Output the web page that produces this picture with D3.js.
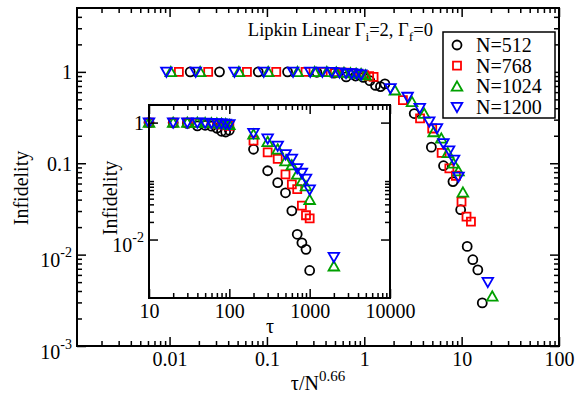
<!DOCTYPE html>
<html><head><meta charset="utf-8">
<script src="https://cdn.jsdelivr.net/npm/d3@7"></script>
<style>
body{margin:0;background:#fff}
svg{display:block}
text{font-family:"Liberation Serif","Times New Roman",serif;fill:#000}
</style>
</head><body>
<svg id="c" width="576" height="396"></svg>
<script>
// ---------------- data ----------------
const tau = [1,2,5,10,20,30,40,50,60,70,80,90,100,200,300,400,500,600,700,800,900,1000,2000];
const sizes = [512,768,1024,1200];
const inf512  = [1,1,1,1,0.99,0.97,0.88,0.9,0.87,0.8,0.71,0.69,0.74,0.35,0.15,0.094,0.063,0.031,0.0123,0.0088,0.0068,0.00296];
const inf768  = [1,1,1,1,1,1,0.99,0.98,0.97,0.95,0.92,0.9,0.88,0.49,0.31,0.24,0.13,0.088,0.073,0.038,0.026,0.023];
const inf1024 = [1,1,1,1,1,1,1,0.99,0.98,0.97,0.96,0.95,0.92,0.63,0.47,0.35,0.22,0.187,0.13,0.10,0.082,0.048,0.0035];
const inf1200 = [1,1,1,1,1,1,1,0.99,0.98,0.97,0.96,0.95,0.93,0.66,0.53,0.40,0.285,0.24,0.165,0.137,0.109,0.071,0.0050];
const scalingExponent = 0.66;
const seriesNames = ["N=512","N=768","N=1024","N=1200"];
const seriesColors = ["#000000","#ff0000","#00a000","#0000ff"];
const seriesShapes = ["circle","square","triUp","triDown"];

const mainXTicks = [0.01,0.1,1,10,100];
const mainXLabels = ["0.01","0.1","1","10","100"];
const mainYTicks = [0.001,0.01,0.1,1];
const mainYLabels = [["10","-3"],["10","-2"],["0.1",""],["1",""]];
const insetXTicks = [10,100,1000,10000];
const insetXLabels = ["10","100","1000","10000"];
const insetYTicks = [0.01,1];
const insetYLabels = [["10","-2"],["1",""]];

// ---------------- layout ----------------
const svg = d3.select("#c");
const M = {l:77, r:559, t:8, b:346};
const I = {l:149, r:390, t:105, b:298};

const x = d3.scaleLog().domain([0.00112,100]).range([M.l,M.r]);
const y = d3.scaleLog().domain([0.001,5]).range([M.b,M.t]);
const xi = d3.scaleLog().domain([10,10000]).range([I.l,I.r]);
const yi = d3.scaleLog().domain([0.001,2]).range([I.b,I.t]);

const allInf = [inf512,inf768,inf1024,inf1200];
const series = sizes.map((N,s)=>({
  N, name:seriesNames[s], color:seriesColors[s], shape:seriesShapes[s],
  pts: allInf[s].map((v,i)=>({tau:tau[i], v}))
}));

function minorLog(domain, decades){
  const out=[];
  decades.forEach(d=>{for(let k=2;k<=9;k++){const v=d*k; if(v>domain[0]*1.0001 && v<domain[1]*0.9999) out.push(v);}});
  return out;
}

function shapePath(shape){
  if(shape==="circle") return "M4.5,0A4.5,4.5 0 1,1 -4.5,0A4.5,4.5 0 1,1 4.5,0Z";
  if(shape==="square") return "M-4,-4H4V4H-4Z";
  if(shape==="triUp") return "M0,-5L5.3,4.3H-5.3Z";
  return "M0,5L5.3,-4.3H-5.3Z";
}

function superLabel(sel, parts, supSize, supDy){
  sel.text(null);
  sel.append("tspan").text(parts[0]);
  if(parts[1]) sel.append("tspan").attr("font-size",supSize).attr("dy",supDy).text(parts[1]);
}

function frameAxes(g, xs, ys, box, cfg){
  const gb = g.append("g").attr("transform",`translate(0,${box.b})`);
  gb.call(d3.axisBottom(xs).tickValues(cfg.xMinor).tickSize(-5).tickSizeOuter(0).tickFormat(""));
  gb.append("g").call(d3.axisBottom(xs).tickValues(cfg.xMajor).tickSize(-9).tickSizeOuter(0).tickPadding(6)
     .tickFormat((d,i)=>cfg.xLabels[i]));
  const gt = g.append("g").attr("transform",`translate(0,${box.t})`);
  gt.call(d3.axisTop(xs).tickValues(cfg.xMinor).tickSize(-5).tickSizeOuter(0).tickFormat(""));
  gt.append("g").call(d3.axisTop(xs).tickValues(cfg.xMajor).tickSize(-9).tickSizeOuter(0).tickFormat(""));
  const gl = g.append("g").attr("transform",`translate(${box.l},0)`);
  gl.call(d3.axisLeft(ys).tickValues(cfg.yMinor).tickSize(-5).tickSizeOuter(0).tickFormat(""));
  const glm = gl.append("g").call(d3.axisLeft(ys).tickValues(cfg.yMajor).tickSize(-9).tickSizeOuter(0).tickPadding(5).tickFormat(""));
  glm.selectAll(".tick text").each(function(d,i){
    const t=d3.select(this); const parts=cfg.yLabels[i];
    superLabel(t, parts, 14, -10);
    t.attr("dy", parts[1] ? "12" : "7");
  });
  const gr = g.append("g").attr("transform",`translate(${box.r},0)`);
  gr.call(d3.axisRight(ys).tickValues(cfg.yMinor).tickSize(-5).tickSizeOuter(0).tickFormat(""));
  gr.append("g").call(d3.axisRight(ys).tickValues(cfg.yMajor).tickSize(-9).tickSizeOuter(0).tickFormat(""));
  g.selectAll(".domain").remove();
  g.selectAll(".tick line").attr("stroke","#000").attr("stroke-width",1.5);
  g.selectAll(".tick text").attr("font-size",20).attr("fill","#000").attr("font-family",'"Liberation Serif",serif');
  g.append("rect").attr("x",box.l).attr("y",box.t).attr("width",box.r-box.l).attr("height",box.b-box.t)
    .attr("fill","none").attr("stroke","#000").attr("stroke-width",2);
}

function drawSeries(g, xs, ys, xOf){
  series.forEach(s=>{
    const pts = s.pts.map(p=>({x:xOf(p,s), v:p.v}))
      .filter(p=>p.x>=xs.domain()[0]*0.999 && p.x<=xs.domain()[1] && p.v>=ys.domain()[0] && p.v<=ys.domain()[1]);
    g.append("g").selectAll("path").data(pts).join("path")
      .attr("d",shapePath(s.shape))
      .attr("transform",p=>`translate(${xs(p.x)},${ys(p.v)})`)
      .attr("fill","none").attr("stroke",s.color).attr("stroke-width",1.8);
  });
}

// ---------------- main plot ----------------
svg.append("rect").attr("width",576).attr("height",396).attr("fill","#fff");
const gMain = svg.append("g");
drawSeries(gMain, x, y, (p,s)=>p.tau/Math.pow(s.N,scalingExponent));
frameAxes(gMain, x, y, M, {
  xMajor:mainXTicks, xLabels:mainXLabels,
  xMinor:minorLog(x.domain(),[0.001,0.01,0.1,1,10]),
  yMajor:mainYTicks, yLabels:mainYLabels,
  yMinor:minorLog(y.domain(),[0.001,0.01,0.1,1])
});

const xl = svg.append("text").attr("x",318).attr("y",390).attr("text-anchor","middle").attr("font-size",20);
xl.append("tspan").text("τ/N");
xl.append("tspan").attr("font-size",15).attr("dy",-9).text("0.66");
svg.append("text").attr("transform","translate(28,188) rotate(-90)").attr("text-anchor","middle")
  .attr("font-size",20).text("Infidelity");

// title
const tt = svg.append("text").attr("x",433).attr("y",36).attr("text-anchor","end").attr("font-size",18.5);
tt.append("tspan").text("Lipkin Linear  Γ");
tt.append("tspan").attr("font-size",13.5).attr("dy",5).text("i");
tt.append("tspan").attr("dy",-5).text("=2, Γ");
tt.append("tspan").attr("font-size",13.5).attr("dy",5).text("f");
tt.append("tspan").attr("dy",-5).text("=0");

// legend
const lg = svg.append("g");
lg.append("rect").attr("x",443).attr("y",32).attr("width",112).attr("height",86)
  .attr("fill","#fff").attr("stroke","#000").attr("stroke-width",1.5);
series.forEach((s,i)=>{
  const cy = 45 + i*20.7;
  lg.append("path").attr("d",shapePath(s.shape)).attr("transform",`translate(457,${cy})`)
    .attr("fill","none").attr("stroke",s.color).attr("stroke-width",1.8);
  lg.append("text").attr("x",476).attr("y",cy+7).attr("font-size",20).text(s.name);
});

// ---------------- inset ----------------
const gIn = svg.append("g");
gIn.append("rect").attr("x",I.l).attr("y",I.t).attr("width",I.r-I.l).attr("height",I.b-I.t).attr("fill","#fff");
drawSeries(gIn, xi, yi, (p,s)=>p.tau);
frameAxes(gIn, xi, yi, I, {
  xMajor:insetXTicks, xLabels:insetXLabels,
  xMinor:minorLog(xi.domain(),[10,100,1000]),
  yMajor:insetYTicks, yLabels:insetYLabels,
  yMinor:[0.02,0.03,0.04,0.05,0.06,0.07,0.08,0.09,0.1]
});
svg.append("text").attr("x",270).attr("y",333).attr("text-anchor","middle").attr("font-size",20).text("τ");
svg.append("text").attr("transform","translate(117,198) rotate(-90)").attr("text-anchor","middle")
  .attr("font-size",20).text("Infidelity");
</script>
</body></html>
